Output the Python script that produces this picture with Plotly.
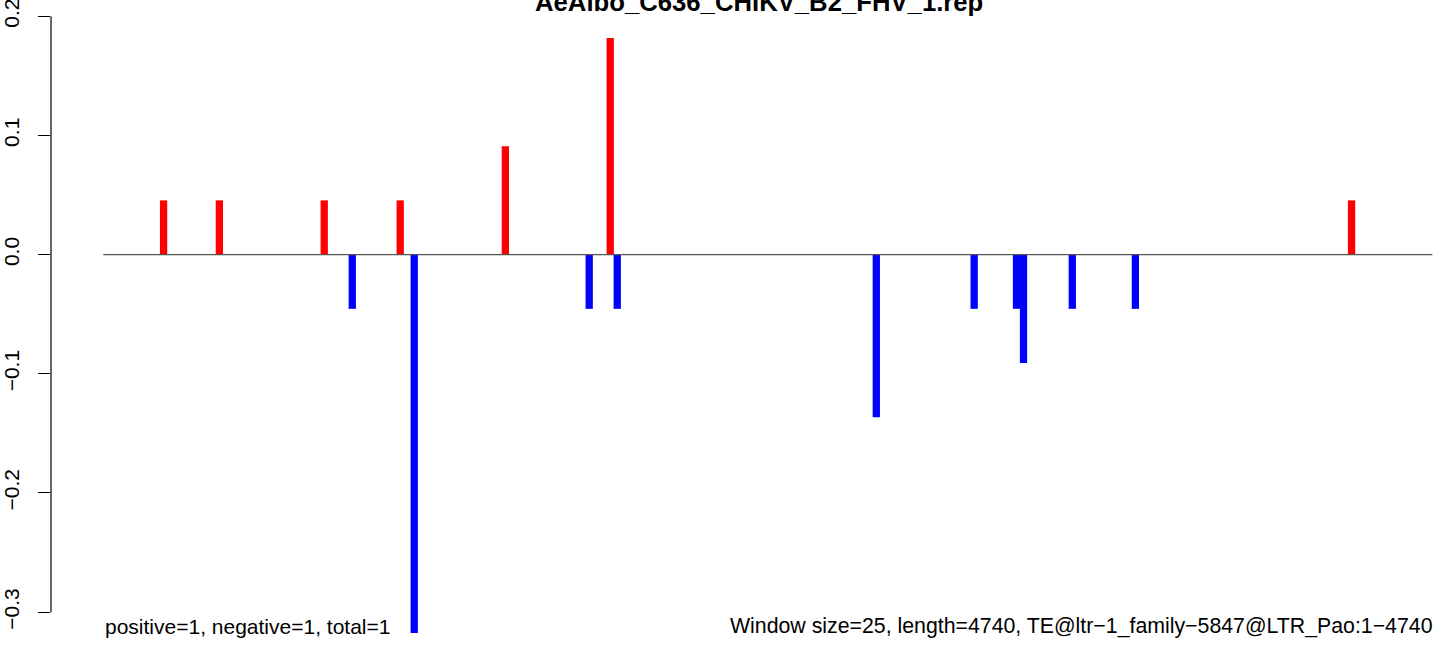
import plotly.graph_objects as go

# ---- data ----
title_text = "AeAlbo_C636_CHIKV_B2_FHV_1.rep"
seq_length = 4740
window_size = 25

pos_x = [215, 414, 788, 1059, 1434, 1808, 4452]
pos_y = [0.0455, 0.0455, 0.0455, 0.0455, 0.0909, 0.1818, 0.0455]

neg_x = [888, 1109, 1733, 1833, 2757, 3106, 3257, 3282, 3456, 3681]
neg_y = [-0.0455, -0.3182, -0.0455, -0.0455, -0.1364, -0.0455, -0.0455, -0.0909, -0.0455, -0.0455]

y_ticks = [-0.3, -0.2, -0.1, 0.0, 0.1, 0.2]
y_tick_labels = ["\u22120.3", "\u22120.2", "\u22120.1", "0.0", "0.1", "0.2"]

left_note = "positive=1, negative=1, total=1"
right_note = "Window size=25, length=4740, TE@ltr\u22121_family\u22125847@LTR_Pao:1\u22124740"

FONT = "Liberation Sans, Arial, Helvetica, sans-serif"

fig = go.Figure()
fig.add_trace(go.Bar(x=pos_x, y=pos_y, width=26, marker=dict(color="#ff0000", line=dict(width=0)),
                     showlegend=False, hoverinfo="x+y"))
fig.add_trace(go.Bar(x=neg_x, y=neg_y, width=26, marker=dict(color="#0000ff", line=dict(width=0)),
                     showlegend=False, hoverinfo="x+y"))

# zero baseline from 0 to sequence length
fig.add_shape(type="line", xref="x", yref="y", x0=0, x1=seq_length, y0=0, y1=0,
              line=dict(color="#555555", width=1.4), layer="above")
# y axis line spanning the tick range (R style)
fig.add_shape(type="line", xref="paper", yref="y", x0=0, x1=0, y0=min(y_ticks), y1=max(y_ticks),
              line=dict(color="black", width=1.2))

fig.add_annotation(text=left_note, x=0, y=0, xref="x", yref="paper", xanchor="left",
                   yanchor="middle", yshift=7, showarrow=False,
                   font=dict(family=FONT, size=21, color="black"))
fig.add_annotation(text=right_note, x=seq_length, y=0, xref="x", yref="paper", xanchor="right",
                   yanchor="middle", yshift=7, xshift=3, showarrow=False,
                   font=dict(family=FONT, size=21.3, color="black"))
fig.add_annotation(text="<b>" + title_text + "</b>", x=0.5083, y=1, xref="paper", yref="paper",
                   xanchor="center", yanchor="bottom", yshift=-2, showarrow=False,
                   font=dict(family=FONT, size=25.7, color="black"))

fig.update_layout(
    width=1444, height=646,
    margin=dict(l=51, r=0, t=16, b=13, pad=0, autoexpand=False),
    paper_bgcolor="white", plot_bgcolor="white",
    barmode="overlay",
    showlegend=False,
    xaxis=dict(range=[-186.5, 4781.7], visible=False, fixedrange=True, automargin=False),
    yaxis=dict(range=[-0.3175, 0.2002], tickmode="array", tickvals=y_ticks, ticktext=y_tick_labels,
               ticks="outside", ticklen=12, tickwidth=1.2, tickcolor="black",
               tickangle=-90, ticklabelstandoff=11, ticklabeloverflow="allow",
               showgrid=False, zeroline=False, showline=False, automargin=False,
               tickfont=dict(family=FONT, size=21, color="black"), fixedrange=True),
)

fig.write_html("out.html", config={"displayModeBar": False},
               post_script="document.body.style.margin='0';document.body.style.overflow='hidden';")
